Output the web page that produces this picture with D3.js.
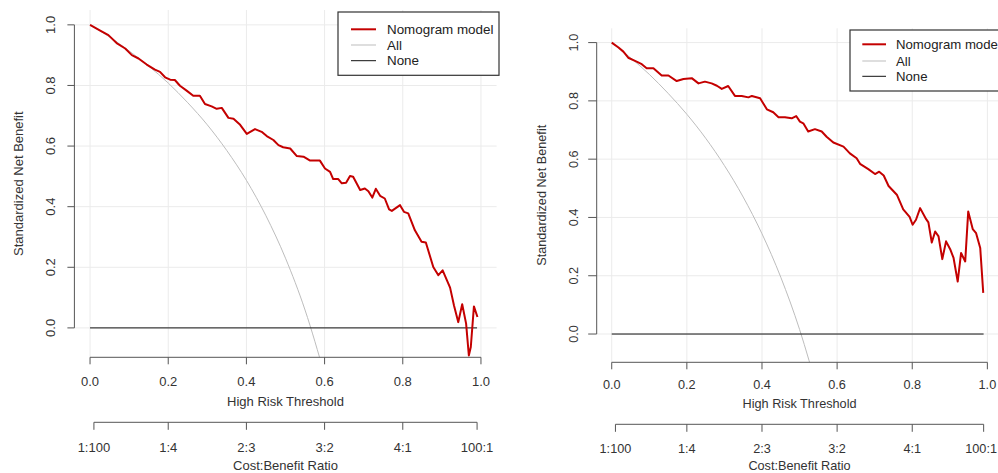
<!DOCTYPE html>
<html>
<head>
<meta charset="utf-8">
<script src="https://cdn.jsdelivr.net/npm/d3@7"></script>
<style>
  body { margin: 0; background: #fff; }
  svg { display: block; font-family: "Liberation Sans", Arial, sans-serif; }
</style>
</head>
<body>
<script>
const w = 998; // width
const h = 473; // height

// axis ticks
const riskTicks = [0, 0.2, 0.4, 0.6, 0.8, 1.0];
const benefitTicks = [0, 0.2, 0.4, 0.6, 0.8, 1.0];
const costTicks = [1 / 101, 0.2, 0.4, 0.6, 0.8, 100 / 101];
const costLabels = ["1:100", "1:4", "2:3", "3:2", "4:1", "100:1"];
const legendNames = ["Nomogram model", "All", "None"];
const noneLine = [[0, 0], [0.99, 0]];

// left chart: [threshold, standardized net benefit]
const leftModel = [
  [0.000, 1.000], [0.026, 0.981], [0.047, 0.966], [0.068, 0.940], [0.090, 0.922], [0.107, 0.900],
  [0.124, 0.889], [0.145, 0.869], [0.166, 0.852], [0.179, 0.845], [0.192, 0.827], [0.205, 0.819],
  [0.217, 0.818], [0.230, 0.799], [0.247, 0.783], [0.264, 0.766], [0.281, 0.766], [0.294, 0.739],
  [0.311, 0.731], [0.324, 0.723], [0.337, 0.726], [0.354, 0.693], [0.367, 0.690], [0.384, 0.670],
  [0.401, 0.640], [0.422, 0.656], [0.439, 0.647], [0.452, 0.633], [0.469, 0.620], [0.482, 0.603],
  [0.494, 0.596], [0.512, 0.592], [0.529, 0.567], [0.546, 0.565], [0.563, 0.552], [0.588, 0.552],
  [0.601, 0.526], [0.614, 0.515], [0.622, 0.491], [0.635, 0.491], [0.644, 0.477], [0.655, 0.479],
  [0.665, 0.501], [0.673, 0.499], [0.691, 0.455], [0.703, 0.460], [0.712, 0.451], [0.722, 0.430],
  [0.731, 0.459], [0.742, 0.436], [0.754, 0.427], [0.765, 0.391], [0.772, 0.386], [0.793, 0.405],
  [0.803, 0.383], [0.814, 0.378], [0.831, 0.322], [0.848, 0.284], [0.859, 0.282], [0.878, 0.201],
  [0.891, 0.174], [0.902, 0.190], [0.921, 0.133], [0.931, 0.074], [0.942, 0.019], [0.952, 0.078],
  [0.962, 0.014], [0.969, -0.091], [0.974, -0.063], [0.982, 0.071], [0.991, 0.036]
];
const leftAll = [
  [0, 1.0], [0.05, 0.960], [0.1, 0.914], [0.15, 0.864], [0.2, 0.808], [0.25, 0.743], [0.3, 0.670],
  [0.35, 0.585], [0.4, 0.487], [0.45, 0.370], [0.5, 0.230], [0.55, 0.059], [0.6, -0.155]
];

// right chart
const rightModel = [
  [0.000, 1.000], [0.018, 0.983], [0.031, 0.969], [0.044, 0.948], [0.062, 0.937], [0.080, 0.926],
  [0.093, 0.912], [0.111, 0.912], [0.133, 0.887], [0.151, 0.887], [0.173, 0.868], [0.191, 0.875],
  [0.213, 0.878], [0.231, 0.860], [0.248, 0.866], [0.266, 0.860], [0.280, 0.852], [0.293, 0.841],
  [0.310, 0.851], [0.328, 0.817], [0.346, 0.817], [0.364, 0.812], [0.373, 0.817], [0.395, 0.809],
  [0.413, 0.771], [0.430, 0.761], [0.444, 0.744], [0.461, 0.744], [0.479, 0.740], [0.491, 0.748],
  [0.501, 0.729], [0.510, 0.723], [0.523, 0.695], [0.541, 0.703], [0.559, 0.695], [0.572, 0.677],
  [0.590, 0.657], [0.617, 0.643], [0.634, 0.620], [0.652, 0.603], [0.661, 0.584], [0.683, 0.566],
  [0.701, 0.549], [0.712, 0.557], [0.724, 0.544], [0.737, 0.508], [0.759, 0.478], [0.776, 0.428],
  [0.793, 0.402], [0.801, 0.375], [0.810, 0.392], [0.821, 0.432], [0.837, 0.394], [0.843, 0.383],
  [0.852, 0.314], [0.861, 0.352], [0.870, 0.335], [0.880, 0.257], [0.890, 0.318], [0.901, 0.291],
  [0.910, 0.261], [0.921, 0.180], [0.930, 0.278], [0.941, 0.249], [0.949, 0.420], [0.961, 0.360],
  [0.970, 0.346], [0.981, 0.295], [0.989, 0.141]
];
const rightAll = [
  [0, 1.0], [0.05, 0.948], [0.1, 0.891], [0.15, 0.826], [0.2, 0.754], [0.25, 0.672], [0.3, 0.578],
  [0.35, 0.470], [0.4, 0.344], [0.45, 0.195], [0.5, 0.016], [0.55, -0.203]
];

const colors = ["#c40000", "#bdbdbd", "#111"];
const widths = [2, 1, 1];

const panels = [
  {
    id: "l", model: leftModel, all: leftAll,
    left: 74.4, right: 496.6, top: 10, bottom: 357.3,
    yLabX: 50, yTitleX: 18.3, yTick: 7,
    xLabY: 381.7, xTitleY: 401, costY: 422.3, costLabY: 447.3, costTitleY: 465,
    fs: 13, legFs: 13.4,
    leg: { x: 338, y: 12, w: 161, h: 63.3, rows: [29.3, 45, 60.7], x0: 351, x1: 376, tx: 387 }
  },
  {
    id: "r", model: rightModel, all: rightAll,
    left: 596.7, right: 1002.4, top: 28.3, bottom: 362.3,
    yLabX: 573.3, yTitleX: 541.7, yTick: 8.5,
    xLabY: 385, xTitleY: 404, costY: 424.3, costLabY: 448.3, costTitleY: 466,
    fs: 12.7, legFs: 13.2,
    leg: { x: 850, y: 30, w: 156, h: 61, rows: [44.3, 61, 76.3], x0: 862.3, x1: 886, tx: 896 }
  }
];

let svg = d3.select("body")
  .append("svg")
  .attr("width", w)
  .attr("height", h);

panels.forEach(drawPanel);

function drawPanel(p) {
  let x = d3.scaleLinear().domain([-0.04, 1.04]).range([p.left, p.right]);
  let y = d3.scaleLinear().domain([-0.097, 1.049]).range([p.bottom, p.top]);
  let g = svg.append("g");

  // grid
  g.selectAll(".vgrid").data(riskTicks).enter().append("line")
    .attr("x1", d => x(d)).attr("x2", d => x(d))
    .attr("y1", p.top).attr("y2", p.bottom)
    .attr("stroke", "#ebebeb");
  g.selectAll(".hgrid").data(benefitTicks).enter().append("line")
    .attr("x1", p.left).attr("x2", p.right)
    .attr("y1", d => y(d)).attr("y2", d => y(d))
    .attr("stroke", "#ebebeb");

  // clip
  svg.append("clipPath").attr("id", "clip-" + p.id)
    .append("rect")
    .attr("x", p.left).attr("y", p.top)
    .attr("width", p.right - p.left).attr("height", p.bottom - p.top);

  let line = d3.line().x(d => x(d[0])).y(d => y(d[1]));
  let smooth = d3.line().x(d => x(d[0])).y(d => y(d[1])).curve(d3.curveMonotoneX);
  let lines = g.append("g").attr("clip-path", `url(#clip-${p.id})`);

  lines.append("path").datum(p.all)
    .attr("d", smooth).attr("fill", "none")
    .attr("stroke", colors[1]).attr("stroke-width", widths[1]);
  lines.append("path").datum(noneLine)
    .attr("d", line).attr("fill", "none")
    .attr("stroke", colors[2]).attr("stroke-width", widths[2]);
  lines.append("path").datum(p.model)
    .attr("d", line).attr("fill", "none")
    .attr("stroke", colors[0]).attr("stroke-width", widths[0])
    .attr("stroke-linejoin", "round");

  // y axis (R style: line only across tick range)
  let ay = g.append("g").attr("stroke", "#555");
  ay.append("line")
    .attr("x1", p.left).attr("x2", p.left)
    .attr("y1", y(0)).attr("y2", y(1));
  ay.selectAll(".t").data(benefitTicks).enter().append("line")
    .attr("x1", p.left - p.yTick).attr("x2", p.left)
    .attr("y1", d => y(d)).attr("y2", d => y(d));
  g.selectAll(".ylab").data(benefitTicks).enter().append("text")
    .attr("transform", d => `translate(${p.yLabX},${y(d)}) rotate(-90)`)
    .attr("dy", "0.35em")
    .attr("text-anchor", "middle")
    .attr("font-size", p.fs)
    .attr("fill", "#333")
    .text(d => d3.format(".1f")(d));
  g.append("text")
    .attr("transform", `translate(${p.yTitleX},${(p.top + p.bottom) / 2}) rotate(-90)`)
    .attr("dy", "0.35em")
    .attr("text-anchor", "middle")
    .attr("font-size", p.fs)
    .attr("fill", "#333")
    .text("Standardized Net Benefit");

  // x axis
  let ax = g.append("g").attr("stroke", "#555");
  ax.append("line")
    .attr("x1", x(0)).attr("x2", x(1))
    .attr("y1", p.bottom).attr("y2", p.bottom);
  ax.selectAll(".t").data(riskTicks).enter().append("line")
    .attr("x1", d => x(d)).attr("x2", d => x(d))
    .attr("y1", p.bottom).attr("y2", p.bottom + 7);
  g.selectAll(".xlab").data(riskTicks).enter().append("text")
    .attr("x", d => x(d)).attr("y", p.xLabY)
    .attr("dy", "0.35em")
    .attr("text-anchor", "middle")
    .attr("font-size", p.fs)
    .attr("fill", "#333")
    .text(d => d3.format(".1f")(d));
  g.append("text")
    .attr("x", (p.left + p.right) / 2).attr("y", p.xTitleY)
    .attr("dy", "0.35em")
    .attr("text-anchor", "middle")
    .attr("font-size", p.fs)
    .attr("fill", "#333")
    .text("High Risk Threshold");

  // cost:benefit axis
  let ac = g.append("g").attr("stroke", "#555");
  ac.append("line")
    .attr("x1", x(costTicks[0])).attr("x2", x(costTicks[costTicks.length - 1]))
    .attr("y1", p.costY).attr("y2", p.costY);
  ac.selectAll(".t").data(costTicks).enter().append("line")
    .attr("x1", d => x(d)).attr("x2", d => x(d))
    .attr("y1", p.costY).attr("y2", p.costY + 7.5);
  g.selectAll(".clab").data(costTicks).enter().append("text")
    .attr("x", d => x(d)).attr("y", p.costLabY)
    .attr("dy", "0.35em")
    .attr("text-anchor", "middle")
    .attr("font-size", p.fs)
    .attr("fill", "#333")
    .text((d, i) => costLabels[i])
    .each(function () {
      // keep labels inside the window
      let b = this.getBBox();
      if (b.x + b.width > w - 1) {
        d3.select(this).attr("text-anchor", "end").attr("x", w - 1);
      }
    });
  g.append("text")
    .attr("x", (p.left + p.right) / 2).attr("y", p.costTitleY)
    .attr("dy", "0.35em")
    .attr("text-anchor", "middle")
    .attr("font-size", p.fs)
    .attr("fill", "#333")
    .text("Cost:Benefit Ratio");

  // legend
  let lg = g.append("g");
  lg.append("rect")
    .attr("x", p.leg.x).attr("y", p.leg.y)
    .attr("width", p.leg.w).attr("height", p.leg.h)
    .attr("fill", "#fff").attr("stroke", "#333").attr("stroke-width", 1.2);
  legendNames.forEach((name, i) => {
    lg.append("line")
      .attr("x1", p.leg.x0).attr("x2", p.leg.x1)
      .attr("y1", p.leg.rows[i]).attr("y2", p.leg.rows[i])
      .attr("stroke", colors[i]).attr("stroke-width", widths[i]);
    lg.append("text")
      .attr("x", p.leg.tx).attr("y", p.leg.rows[i])
      .attr("dy", "0.35em")
      .attr("font-size", p.legFs)
      .attr("fill", "#222")
      .text(name);
  });
}
</script>
</body>
</html>
